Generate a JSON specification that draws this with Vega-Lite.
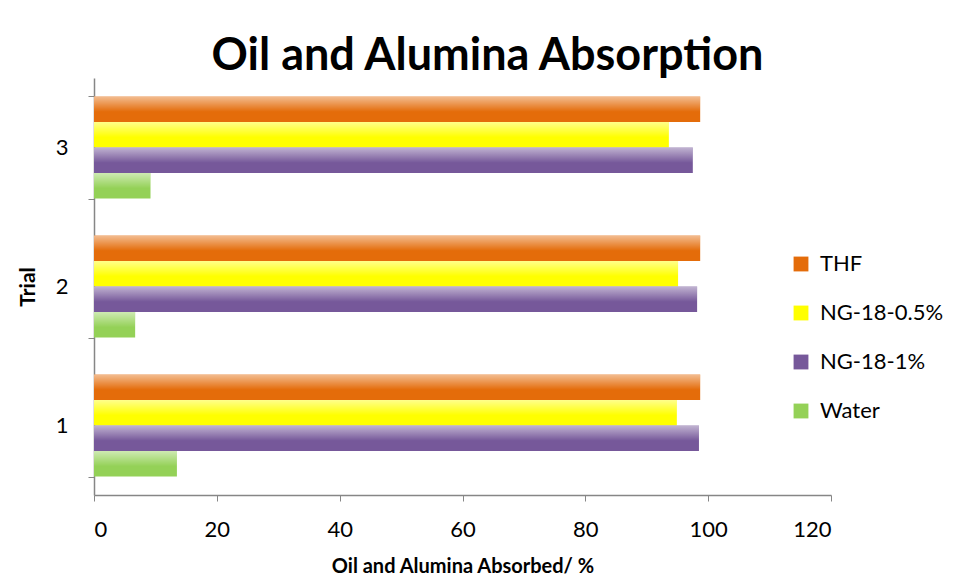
{
  "$schema": "https://vega.github.io/schema/vega-lite/v6.json",
  "width": 737,
  "height": 417,
  "autosize": {"type": "none"},
  "padding": {"left": 94, "top": 78, "right": 125, "bottom": 85},
  "background": "white",
  "config": {
    "view": {"stroke": null},
    "font": "Lato"
  },
  "title": {
    "text": "Oil and Alumina Absorption",
    "font": "Lato",
    "fontSize": 45,
    "fontWeight": "bold",
    "color": "black",
    "anchor": "middle",
    "dx": 25,
    "offset": -12
  },
  "data": {
    "values": [
      {"trial": "1", "series": "THF", "value": 98.7},
      {"trial": "1", "series": "NG-18-0.5%", "value": 94.9},
      {"trial": "1", "series": "NG-18-1%", "value": 98.5},
      {"trial": "1", "series": "Water", "value": 13.5},
      {"trial": "2", "series": "THF", "value": 98.7},
      {"trial": "2", "series": "NG-18-0.5%", "value": 95.1},
      {"trial": "2", "series": "NG-18-1%", "value": 98.2},
      {"trial": "2", "series": "Water", "value": 6.7},
      {"trial": "3", "series": "THF", "value": 98.7},
      {"trial": "3", "series": "NG-18-0.5%", "value": 93.6},
      {"trial": "3", "series": "NG-18-1%", "value": 97.5},
      {"trial": "3", "series": "Water", "value": 9.2}
    ]
  },
  "encoding": {
    "y": {
      "field": "trial",
      "type": "ordinal",
      "sort": "descending",
      "scale": {"paddingInner": 0.266, "paddingOuter": 0.133},
      "axis": {
        "title": "Trial",
        "titleFont": "Lato",
        "titleFontSize": 21,
        "titleFontWeight": "bold",
        "titleColor": "black",
        "titlePadding": 17,
        "labelFont": "Lato",
        "labelFontSize": 22,
        "labelColor": "black",
        "labelPadding": 20,
        "labelAngle": 0,
        "tickBand": "extent",
        "tickSize": 6,
        "tickColor": "#868686",
        "domainColor": "#868686",
        "domainWidth": 1.5,
        "grid": false
      }
    },
    "yOffset": {
      "field": "series",
      "type": "nominal",
      "sort": ["THF", "NG-18-0.5%", "NG-18-1%", "Water"],
      "scale": {"paddingInner": 0, "paddingOuter": 0}
    },
    "x": {
      "field": "value",
      "type": "quantitative",
      "scale": {"domain": [0, 120], "nice": false},
      "axis": {
        "values": [0, 20, 40, 60, 80, 100, 120],
        "title": "Oil and Alumina Absorbed/ %",
        "titleFont": "Lato",
        "titleFontSize": 20,
        "titleFontWeight": "bold",
        "titleColor": "black",
        "titlePadding": 16,
        "labelFont": "Lato",
        "labelFontSize": 22,
        "labelColor": "black",
        "labelPadding": 18,
        "tickSize": 6,
        "tickColor": "#868686",
        "domainColor": "#868686",
        "domainWidth": 1.5,
        "grid": false
      }
    }
  },
  "layer": [
    {
      "mark": {"type": "bar"},
      "encoding": {
        "color": {
          "field": "series",
          "type": "nominal",
          "sort": ["THF", "NG-18-0.5%", "NG-18-1%", "Water"],
          "scale": {
            "domain": ["THF", "NG-18-0.5%", "NG-18-1%", "Water"],
            "range": ["#E46C0A", "#FFFF00", "#76589A", "#94D157"]
          },
          "legend": {
            "title": null,
            "orient": "none",
            "legendX": 696,
            "legendY": 175,
            "symbolType": "square",
            "symbolSize": 220,
            "symbolStrokeWidth": 0,
            "labelFont": "Lato",
            "labelFontSize": 22,
            "labelColor": "black",
            "labelOffset": 8,
            "rowPadding": 27
          }
        }
      }
    },
    {
      "mark": {
        "type": "bar",
        "color": {
          "gradient": "linear",
          "x1": 0, "y1": 0, "x2": 0, "y2": 1,
          "stops": [
            {"offset": 0, "color": "rgba(255,255,255,0.55)"},
            {"offset": 0.6, "color": "rgba(255,255,255,0)"},
            {"offset": 1, "color": "rgba(255,255,255,0)"}
          ]
        }
      },
      "encoding": {}
    }
  ]
}
